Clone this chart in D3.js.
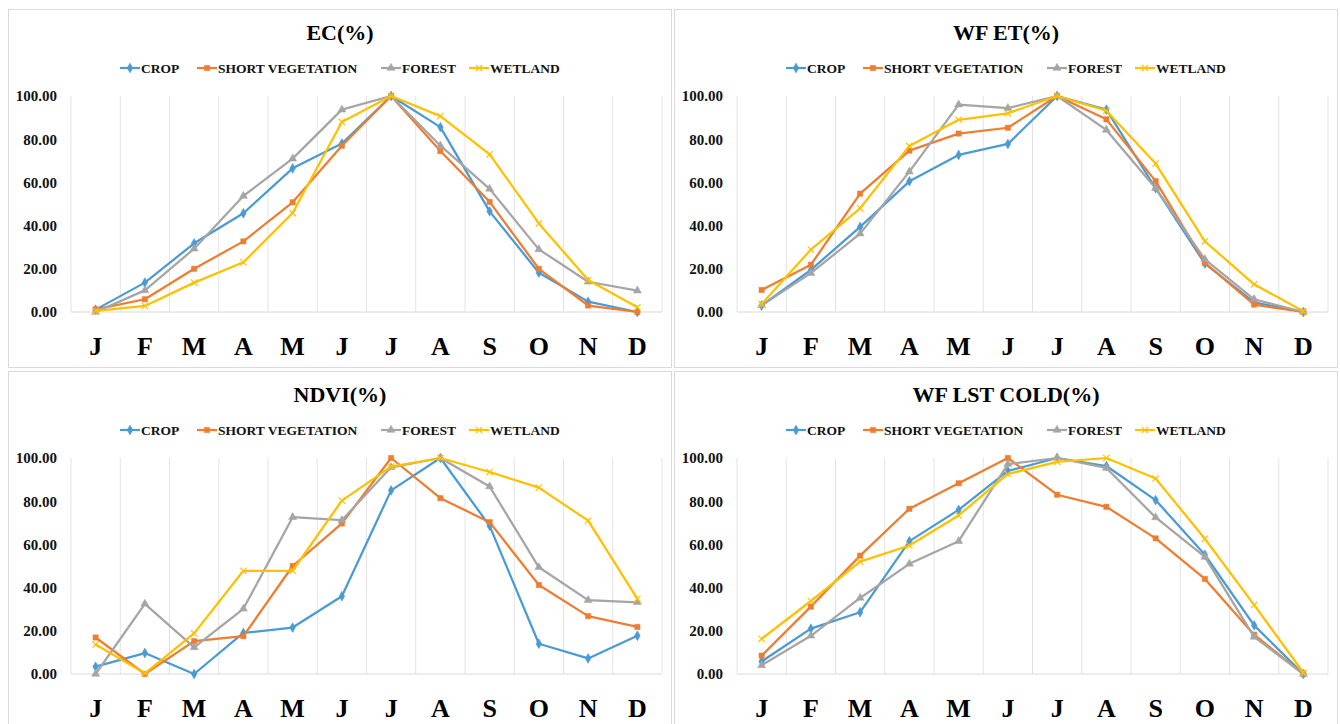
<!DOCTYPE html>
<html>
<head>
<meta charset="utf-8">
<script src="https://cdn.jsdelivr.net/npm/d3@7"></script>
<style>
  body { margin: 0; background: #fff; }
  svg { display: block; font-family: "Liberation Serif", "DejaVu Serif", serif; }
</style>
</head>
<body>
<svg id="chart" width="1340" height="724"></svg>
<script>
const months = ['J', 'F', 'M', 'A', 'M', 'J', 'J', 'A', 'S', 'O', 'N', 'D'];
const seriesNames = ['CROP', 'SHORT VEGETATION', 'FOREST', 'WETLAND'];
const yTicks = [0, 20, 40, 60, 80, 100];

// EC(%)
const ecCrop = [1.1, 13.6, 31.8, 45.7, 66.5, 78, 100, 85.6, 46.6, 18.2, 4.8, 0];
const ecShort = [1.2, 5.9, 20, 32.7, 50.8, 77, 100, 74.5, 51, 20, 3, 0];
const ecForest = [0, 10, 29.3, 53.7, 71, 93.7, 100, 77, 57, 29, 14, 9.9];
const ecWetland = [0.5, 2.8, 13.6, 23, 45.8, 88, 100, 90.7, 73, 41, 14.8, 2.2];

// WF ET(%)
const etCrop = [3, 19.5, 39.4, 60.5, 72.7, 77.8, 100, 93.7, 57.3, 22.4, 4.5, 0];
const etShort = [10.2, 21.9, 54.8, 74.7, 82.6, 85.3, 100, 89.2, 60.6, 22.8, 3.4, 0];
const etForest = [3.1, 18, 36.3, 65, 96, 94.4, 100, 84.3, 57.3, 24.4, 5.9, 0];
const etWetland = [3.7, 28.9, 48, 76.9, 89, 92, 100, 93.2, 68.7, 32.7, 12.8, 0.3];

// NDVI(%)
const ndviCrop = [3.4, 9.7, 0, 19, 21.5, 36, 85, 100, 68.6, 14, 7.2, 17.7];
const ndviShort = [16.9, 0, 15.2, 17.5, 50, 69.7, 100, 81.4, 70.3, 41.2, 26.8, 21.8];
const ndviForest = [0, 32.5, 12.3, 30.2, 72.6, 71.2, 95.7, 100, 86.8, 49.4, 34.2, 33.2];
const ndviWetland = [13.7, 0.3, 18.8, 47.8, 47.8, 80.3, 96, 100, 93.5, 86.3, 71, 34.8];

// WF LST COLD(%)
const lstCrop = [5.8, 21, 28.6, 61.5, 76, 94, 100, 96.3, 80.5, 55.2, 22.5, 0];
const lstShort = [8.5, 31.2, 54.8, 76.5, 88.3, 100, 83, 77.4, 62.8, 44, 18.2, 0];
const lstForest = [4, 17.7, 35.2, 51, 61.5, 97.2, 100, 95.4, 72.5, 54.2, 17.2, 0];
const lstWetland = [16.3, 33.8, 52, 59.5, 73.4, 92.6, 98.2, 100, 90.5, 62.6, 32, 0.6];

const panels = [
  { title: 'EC(%)', x: 8, y: 9, series: [ecCrop, ecShort, ecForest, ecWetland] },
  { title: 'WF ET(%)', x: 674, y: 9, series: [etCrop, etShort, etForest, etWetland] },
  { title: 'NDVI(%)', x: 8, y: 371, series: [ndviCrop, ndviShort, ndviForest, ndviWetland] },
  { title: 'WF LST COLD(%)', x: 674, y: 371, series: [lstCrop, lstShort, lstForest, lstWetland] },
];

const colors = ['#4a9bd4', '#ed7d31', '#a5a5a5', '#ffc000'];
const symbols = [d3.symbolDiamond, d3.symbolSquare, d3.symbolTriangle, d3.symbolTimes];
const symbolSizes = [28, 28, 28, 28];

const panelW = 664;
const panelH = 358;
const plotLeft = 63;
const plotRight = 654;
const plotTop = 87;
const plotBottom = 303;

const svg = d3.select('#chart');

function drawMarker(g, i, x, y) {
  const path = d3.symbol().type(symbols[i]).size(symbolSizes[i])();
  const m = g.append('path')
    .attr('d', path)
    .attr('transform', `translate(${x},${y})`);
  if (i === 3) {
    m.attr('fill', 'none').attr('stroke', colors[i]).attr('stroke-width', 1.2);
  } else {
    m.attr('fill', colors[i]).attr('stroke', colors[i]).attr('stroke-width', 0.5);
  }
}

panels.forEach((panel) => {
  const g = svg.append('g').attr('transform', `translate(${panel.x},${panel.y})`);

  g.append('rect')
    .attr('x', 0.5).attr('y', 0.5)
    .attr('width', panelW - 1).attr('height', panelH)
    .attr('fill', '#fff')
    .attr('stroke', '#d9d9d9');

  g.append('text')
    .attr('x', panelW / 2)
    .attr('y', 31)
    .attr('text-anchor', 'middle')
    .attr('font-size', 22)
    .attr('font-weight', 'bold')
    .attr('fill', '#000')
    .text(panel.title);

  // legend
  const legendStarts = [112, 189, 373, 461];
  seriesNames.forEach((name, i) => {
    const lx = legendStarts[i];
    const lg = g.append('g').attr('transform', `translate(${lx},59)`);
    lg.append('line')
      .attr('x1', 0).attr('x2', 20)
      .attr('stroke', colors[i]).attr('stroke-width', 2.2);
    drawMarker(lg, i, 10, 0);
    lg.append('text')
      .attr('x', 21).attr('y', 4.5)
      .attr('font-size', 13.5)
      .attr('font-weight', 'bold')
      .attr('fill', '#111')
      .text(name);
  });

  const x = d3.scaleBand().domain(d3.range(months.length)).range([plotLeft, plotRight]);
  const y = d3.scaleLinear().domain([0, 100]).range([plotBottom, plotTop]);

  // vertical gridlines at band edges
  const edges = d3.range(months.length + 1).map((i) => plotLeft + i * x.bandwidth());
  g.append('g').selectAll('line')
    .data(edges)
    .join('line')
    .attr('x1', (d) => d).attr('x2', (d) => d)
    .attr('y1', plotTop).attr('y2', plotBottom)
    .attr('stroke', '#e3e3e3').attr('stroke-width', 1);

  g.append('line')
    .attr('x1', plotLeft).attr('x2', plotRight)
    .attr('y1', y(0)).attr('y2', y(0))
    .attr('stroke', '#d9d9d9').attr('stroke-width', 1);

  // y axis labels
  const yAxis = d3.axisLeft(y).tickValues(yTicks).tickSize(0).tickPadding(7)
    .tickFormat(d3.format('.2f'));
  const ya = g.append('g').attr('transform', `translate(${plotLeft - 7},0)`).call(yAxis);
  ya.select('.domain').remove();
  ya.selectAll('text')
    .attr('font-size', 15)
    .attr('font-weight', 'bold')
    .attr('fill', '#111')
    .attr('font-family', '"Liberation Serif", serif');

  // x axis labels
  const xAxis = d3.axisBottom(x).tickSize(0).tickPadding(0).tickFormat((i) => months[i]);
  const xa = g.append('g').attr('transform', `translate(0,${plotBottom + 25})`).call(xAxis);
  xa.select('.domain').remove();
  xa.selectAll('text')
    .attr('font-size', 26)
    .attr('font-weight', 'bold')
    .attr('fill', '#000')
    .attr('dy', '0.71em')
    .attr('font-family', '"Liberation Serif", serif');

  const line = d3.line()
    .x((d, i) => x(i) + x.bandwidth() / 2)
    .y((d) => y(d));

  panel.series.forEach((values, si) => {
    g.append('path')
      .datum(values)
      .attr('d', line)
      .attr('fill', 'none')
      .attr('stroke', colors[si])
      .attr('stroke-width', 2.25)
      .attr('stroke-linejoin', 'round');
    values.forEach((v, i) => drawMarker(g, si, x(i) + x.bandwidth() / 2, y(v)));
  });
});
</script>
</body>
</html>
